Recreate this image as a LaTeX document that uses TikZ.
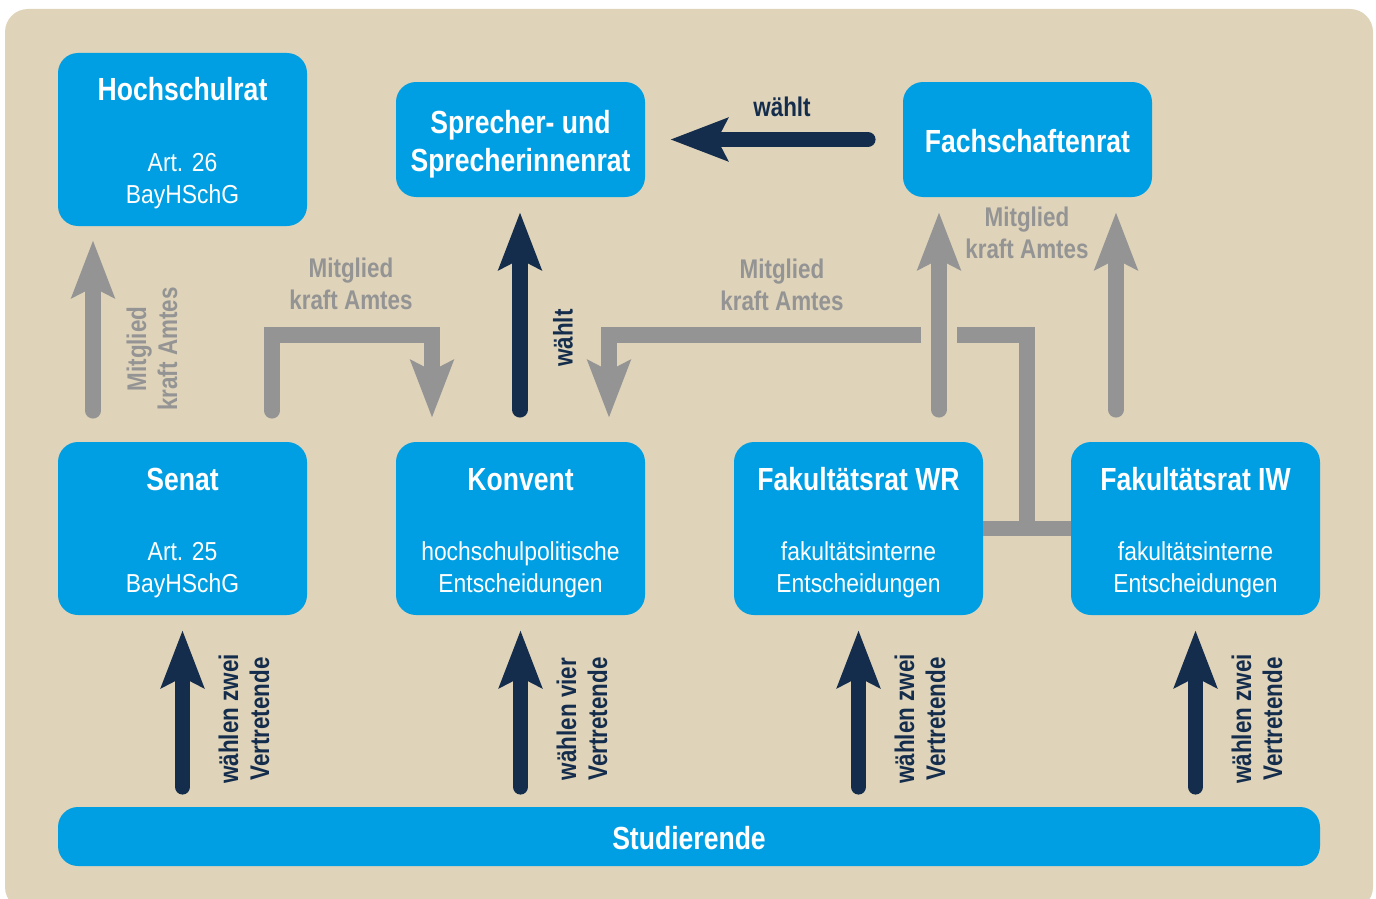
\documentclass[tikz,border=0pt]{standalone}
\usepackage{fontspec}
\setmainfont[FakeStretch=0.83]{Liberation Sans}
\newfontfamily\subfont[FakeStretch=0.88]{Liberation Sans}
\usetikzlibrary{arrows.meta,calc}
\definecolor{bg}{HTML}{DFD4BA}
\definecolor{boxblue}{HTML}{009FE3}
\definecolor{navy}{HTML}{152D4C}
\definecolor{lgray}{HTML}{949494}

\begin{document}
\begin{tikzpicture}[x=1pt,y=-1pt,
  box/.style={draw=none, fill=boxblue, rounded corners=20pt, minimum width=249pt, inner sep=0pt},
  tallbox/.style={box, minimum height=173pt},
  shortbox/.style={box, minimum height=115pt},
  boxtitle/.style={text=white, font=\fontsize{32}{38}\selectfont\bfseries, anchor=base, inner sep=0pt},
  boxsub/.style={text=white, font=\fontsize{26}{32}\selectfont\subfont, anchor=base, inner sep=0pt},
  graytext/.style={text=lgray, font=\fontsize{27}{31}\selectfont\bfseries, align=center, inner sep=0pt},
  navytext/.style={text=navy, font=\fontsize{27}{31}\selectfont\bfseries, align=center, inner sep=0pt},
  thickline/.style={line width=15.5pt},
  bigtip/.style={-{Stealth[length=57pt,width=42pt,inset=10pt]}},
  grayarrow/.style={thickline, draw=lgray, bigtip, line cap=round},
  grayline/.style={thickline, draw=lgray},
  navyarrow/.style={thickline, draw=navy, bigtip, line cap=round},
]
\useasboundingbox (0,0) rectangle (1376,899);
\clip (0,0) rectangle (1376,899);
\fill[bg, rounded corners=23pt] (5,9) rectangle (1373,910);

% bodies
\node[tallbox]  (hsr)   at (182.5,139.5) {};
\node[shortbox] (spr)   at (520.5,139.5) {};
\node[shortbox] (fsr)   at (1027.5,139.5) {};
\node[tallbox]  (senat) at (182.5,528.5) {};
\node[tallbox]  (konv)  at (520.5,528.5) {};
\node[tallbox]  (wr)    at (858.5,528.5) {};
\node[tallbox]  (iw)    at (1195.5,528.5) {};
\node[box, minimum width=1262pt, minimum height=59pt] (stud) at (689,836.5) {};

% box texts
\node[boxtitle] at (182.5,100) {Hochschulrat};
\node[boxsub]   at (182.5,171) {Art. 26};
\node[boxsub]   at (182.5,203) {BayHSchG};
\node[boxtitle] at (520.5,133.5) {Sprecher- und};
\node[boxtitle] at (520.5,171.5) {Sprecherinnenrat};
\node[boxtitle] at (1027.5,152.5) {Fachschaftenrat};

\node[boxtitle] at (182.5,490) {Senat};
\node[boxsub]   at (182.5,560) {Art. 25};
\node[boxsub]   at (182.5,592) {BayHSchG};
\node[boxtitle] at (520.5,490) {Konvent};
\node[boxsub]   at (520.5,560) {hochschulpolitische};
\node[boxsub]   at (520.5,592) {Entscheidungen};
\node[boxtitle] at (858.5,490) {Fakultätsrat WR};
\node[boxsub]   at (858.5,560) {fakultätsinterne};
\node[boxsub]   at (858.5,592) {Entscheidungen};
\node[boxtitle] at (1195.5,490) {Fakultätsrat IW};
\node[boxsub]   at (1195.5,560) {fakultätsinterne};
\node[boxsub]   at (1195.5,592) {Entscheidungen};
\node[boxtitle] at (689,849.5) {Studierende};

% ex-officio links
\draw[grayarrow] ($(senat.north)+(-89.5,-31)$) -- ($(hsr.south)+(-89.5,14)$);
\draw[grayarrow] ($(senat.north)+(89.5,-31)$) -- ++(0,-76) -| ($(konv.north)+(-88.5,-24)$);
\coordinate (gapL) at (921,335);
\coordinate (gapR) at (957,335);
\draw[grayarrow, line cap=butt] (gapL) -| ($(konv.north)+(88.5,-24)$);
\draw[grayline] (wr.east) -- (iw.west);
\draw[grayline] ($(wr.east)!0.5!(iw.west)$) |- (gapR);
\draw[grayarrow] ($(wr.north)+(80.5,-32)$) -- ($(fsr.south)+(-88.5,15)$);
\draw[grayarrow] ($(iw.north)+(-79.5,-32)$) -- ($(fsr.south)+(88.5,15)$);

% elections
\draw[navyarrow] ($(konv.north)+(-0.5,-32)$) -- ($(spr.south)+(-0.5,15)$);
\draw[navyarrow] ($(fsr.west)+(-35,0)$) -- ($(spr.east)+(25,0)$);
\foreach \b in {senat,konv,wr,iw}
  \draw[navyarrow] ($(stud.north -| \b.south)+(0,-20)$) -- ($(\b.south)+(0,15)$);

% labels
\node[graytext, rotate=90] (l1) at (152,349) {Mitglied\\kraft Amtes};
\node[graytext, anchor=base] at (351,277) {Mitglied};
\node[graytext, anchor=base] at (351,309) {kraft Amtes};
\node[graytext, anchor=base] at (782,278) {Mitglied};
\node[graytext, anchor=base] at (782,310) {kraft Amtes};
\node[graytext, anchor=base] at (1027,226) {Mitglied};
\node[graytext, anchor=base] at (1027,258) {kraft Amtes};
\node[navytext, rotate=90] at (563,338) {wählt};
\node[navytext, anchor=base] at (782,116) {wählt};
\node[navytext, rotate=90] at (244,719) {wählen zwei\\Vertretende};
\node[navytext, rotate=90] at (582,719) {wählen vier\\Vertretende};
\node[navytext, rotate=90] at (920,719) {wählen zwei\\Vertretende};
\node[navytext, rotate=90] at (1257,719) {wählen zwei\\Vertretende};
\end{tikzpicture}
\end{document}
